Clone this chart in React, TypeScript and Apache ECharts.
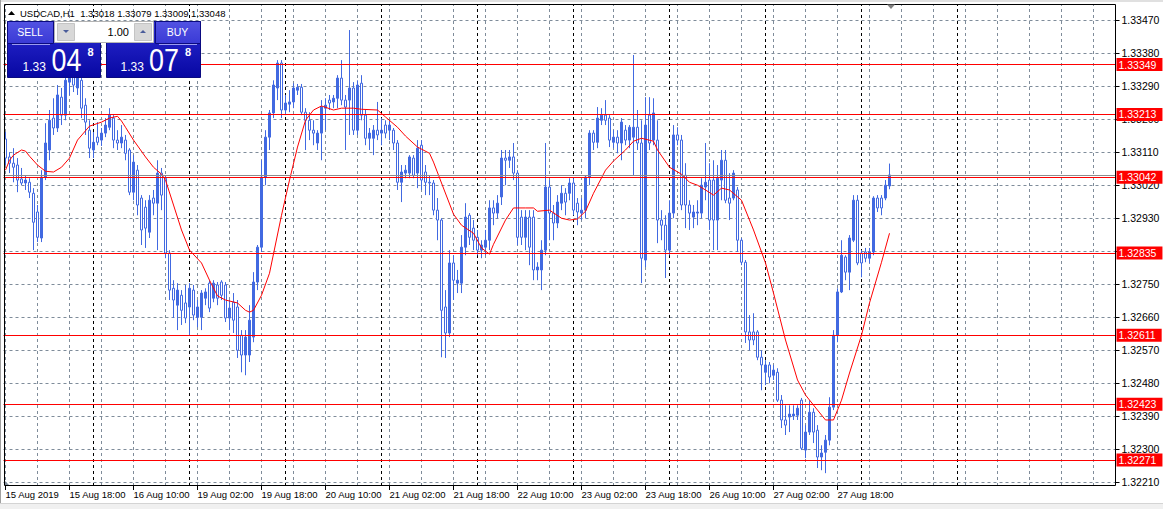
import React, { useEffect, useRef } from "react";
import * as echarts from "echarts";

// ---------- data ----------
const symbolTitle = "USDCAD,H1";
const headerOHLC = ["1.33018", "1.33079", "1.33009", "1.33048"];

const tradingDays = ["15 Aug", "16 Aug", "19 Aug", "20 Aug", "21 Aug", "22 Aug", "23 Aug", "26 Aug", "27 Aug", "28 Aug", "29 Aug", "30 Aug"];
const firstHour = 2;
const slotCount = 278;

const timeLabels = [
  "15 Aug 2019", "15 Aug 18:00", "16 Aug 10:00", "19 Aug 02:00", "19 Aug 18:00", "20 Aug 10:00", "21 Aug 02:00",
  "21 Aug 18:00", "22 Aug 10:00", "23 Aug 02:00", "23 Aug 18:00", "26 Aug 10:00", "27 Aug 02:00", "27 Aug 18:00",
];
const timeLabelStep = 16;

const priceTicks = [1.3221, 1.323, 1.3239, 1.3248, 1.3257, 1.3266, 1.3275, 1.3284, 1.3293, 1.3302, 1.3311, 1.332, 1.3329, 1.3338, 1.3347];
const priceMin = 1.322;
const priceMax = 1.33514;
const levelPrices = [1.33349, 1.33213, 1.33042, 1.32835, 1.32611, 1.32423, 1.32271];
const bidPrice = 1.33048;

const opens = [
  1.33146, 1.33097, 1.33080, 1.33075, 1.33037, 1.33026, 1.33028, 1.32998, 1.32947, 1.32876,
  1.33042, 1.33116, 1.33203, 1.33176, 1.33260, 1.33211, 1.33301, 1.33339, 1.33285, 1.33306,
  1.33238, 1.33170, 1.33116, 1.33151, 1.33143, 1.33162, 1.33178, 1.33203, 1.33143, 1.33135,
  1.33143, 1.33116, 1.33001, 1.33061, 1.32985, 1.32960, 1.32892, 1.32985, 1.32971, 1.33053,
  1.33039, 1.32835, 1.32739, 1.32693, 1.32720, 1.32699, 1.32688, 1.32734, 1.32660, 1.32660,
  1.32712, 1.32753, 1.32712, 1.32748, 1.32756, 1.32748, 1.32658, 1.32701, 1.32688, 1.32611,
  1.32557, 1.32557, 1.32606, 1.32756, 1.32851, 1.33042, 1.33151, 1.33217, 1.33285, 1.33353,
  1.33225, 1.33241, 1.33247, 1.33279, 1.33287, 1.33219, 1.33197, 1.33170, 1.33135, 1.33162,
  1.33230, 1.33252, 1.33247, 1.33257, 1.33312, 1.33252, 1.33252, 1.33285, 1.33170, 1.33298,
  1.33211, 1.33148, 1.33148, 1.33170, 1.33162, 1.33184, 1.33170, 1.33170, 1.33135, 1.33028,
  1.33053, 1.33053, 1.33094, 1.33053, 1.33129, 1.33056, 1.33028, 1.33026, 1.32952, 1.32925,
  1.32688, 1.32617, 1.32808, 1.32753, 1.32753, 1.32851, 1.32938, 1.32903, 1.32878, 1.32843,
  1.32851, 1.32870, 1.32958, 1.32944, 1.32988, 1.33094, 1.33088, 1.33097, 1.33053, 1.32933,
  1.32878, 1.32933, 1.32933, 1.32789, 1.32789, 1.32843, 1.33015, 1.32944, 1.32917, 1.32971,
  1.32998, 1.32998, 1.33026, 1.32971, 1.32944, 1.32952, 1.33042, 1.33162, 1.33137, 1.33197,
  1.33211, 1.33203, 1.33137, 1.33151, 1.33135, 1.33170, 1.33143, 1.33151, 1.33178, 1.33135,
  1.32816, 1.33211, 1.33143, 1.33143, 1.32925, 1.32911, 1.32843, 1.32944, 1.33157, 1.33143,
  1.33047, 1.32966, 1.32933, 1.32944, 1.32944, 1.33015, 1.33034, 1.33034, 1.32925, 1.33034,
  1.33088, 1.32985, 1.32985, 1.33007, 1.32870, 1.32810, 1.32620, 1.32620, 1.32620, 1.32551,
  1.32510, 1.32530, 1.32502, 1.32510, 1.32434, 1.32380, 1.32388, 1.32391, 1.32393, 1.32434,
  1.32298, 1.32347, 1.32401, 1.32352, 1.32279, 1.32292, 1.32325, 1.32415, 1.32611, 1.32729,
  1.32824, 1.32783, 1.32870, 1.32979, 1.32835, 1.32838, 1.32821, 1.32838, 1.32985, 1.32985,
  1.32985, 1.33018,
];
const highs = [
  1.33165, 1.33110, 1.33121, 1.33094, 1.33067, 1.33047, 1.33039, 1.33012, 1.32966, 1.33061,
  1.33189, 1.33225, 1.33257, 1.33293, 1.33285, 1.33328, 1.33355, 1.33350, 1.33334, 1.33317,
  1.33257, 1.33197, 1.33165, 1.33192, 1.33176, 1.33203, 1.33230, 1.33211, 1.33170, 1.33184,
  1.33157, 1.33121, 1.33102, 1.33075, 1.32993, 1.32979, 1.32993, 1.33007, 1.33088, 1.33067,
  1.33047, 1.32843, 1.32761, 1.32753, 1.32734, 1.32748, 1.32753, 1.32748, 1.32707, 1.32734,
  1.32739, 1.32761, 1.32761, 1.32756, 1.32761, 1.32756, 1.32707, 1.32726, 1.32707, 1.32625,
  1.32625, 1.32693, 1.32783, 1.32857, 1.33088, 1.33170, 1.33225, 1.33306, 1.33361, 1.33361,
  1.33266, 1.33279, 1.33298, 1.33296, 1.33296, 1.33230, 1.33219, 1.33197, 1.33170, 1.33252,
  1.33257, 1.33266, 1.33266, 1.33320, 1.33361, 1.33266, 1.33443, 1.33301, 1.33306, 1.33320,
  1.33225, 1.33176, 1.33184, 1.33247, 1.33203, 1.33197, 1.33197, 1.33176, 1.33143, 1.33075,
  1.33075, 1.33102, 1.33102, 1.33143, 1.33143, 1.33075, 1.33047, 1.33034, 1.32985, 1.32930,
  1.32734, 1.32843, 1.32829, 1.32789, 1.32884, 1.32971, 1.32944, 1.32925, 1.32898, 1.32870,
  1.32898, 1.32979, 1.32979, 1.32993, 1.33116, 1.33116, 1.33116, 1.33135, 1.33061, 1.32952,
  1.32952, 1.32952, 1.32952, 1.32810, 1.32870, 1.33135, 1.33034, 1.32966, 1.32993, 1.33020,
  1.33012, 1.33039, 1.33039, 1.32985, 1.32985, 1.33047, 1.33170, 1.33170, 1.33233, 1.33230,
  1.33252, 1.33211, 1.33170, 1.33170, 1.33203, 1.33184, 1.33184, 1.33375, 1.33225, 1.33197,
  1.33260, 1.33260, 1.33257, 1.33197, 1.32952, 1.32938, 1.32979, 1.33184, 1.33178, 1.33157,
  1.33080, 1.32979, 1.32966, 1.32979, 1.33039, 1.33135, 1.33080, 1.33088, 1.33075, 1.33116,
  1.33116, 1.33053, 1.33061, 1.33015, 1.32876, 1.32816, 1.32666, 1.32671, 1.32625, 1.32570,
  1.32543, 1.32538, 1.32530, 1.32521, 1.32448, 1.32420, 1.32420, 1.32420, 1.32420, 1.32440,
  1.32366, 1.32434, 1.32412, 1.32366, 1.32311, 1.32339, 1.32442, 1.32625, 1.32739, 1.32870,
  1.32829, 1.32884, 1.32993, 1.32993, 1.32843, 1.32849, 1.32849, 1.32990, 1.32993, 1.32993,
  1.33034, 1.33079,
];
const lows = [
  1.33075, 1.33053, 1.33028, 1.33001, 1.33020, 1.33007, 1.32985, 1.32843, 1.32865, 1.32865,
  1.33034, 1.33088, 1.33157, 1.33165, 1.33184, 1.33197, 1.33266, 1.33274, 1.33266, 1.33203,
  1.33157, 1.33094, 1.33094, 1.33129, 1.33127, 1.33151, 1.33170, 1.33121, 1.33116, 1.33121,
  1.33088, 1.32993, 1.32979, 1.32938, 1.32857, 1.32849, 1.32876, 1.32938, 1.32843, 1.32952,
  1.32821, 1.32707, 1.32658, 1.32625, 1.32639, 1.32644, 1.32611, 1.32652, 1.32633, 1.32625,
  1.32693, 1.32674, 1.32701, 1.32693, 1.32707, 1.32647, 1.32625, 1.32617, 1.32549, 1.32510,
  1.32502, 1.32538, 1.32592, 1.32734, 1.32838, 1.33020, 1.33116, 1.33203, 1.33252, 1.33203,
  1.33211, 1.33219, 1.33230, 1.33266, 1.33211, 1.33116, 1.33143, 1.33129, 1.33116, 1.33088,
  1.33170, 1.33225, 1.33230, 1.33230, 1.33238, 1.33116, 1.33157, 1.33157, 1.33157, 1.33197,
  1.33129, 1.33116, 1.33102, 1.33143, 1.33129, 1.33148, 1.33143, 1.33116, 1.33007, 1.32974,
  1.33039, 1.33039, 1.33039, 1.33012, 1.33007, 1.32993, 1.32993, 1.32938, 1.32870, 1.32551,
  1.32549, 1.32606, 1.32707, 1.32726, 1.32726, 1.32829, 1.32857, 1.32843, 1.32829, 1.32821,
  1.32829, 1.32843, 1.32911, 1.32930, 1.32966, 1.33020, 1.33067, 1.33034, 1.32857, 1.32857,
  1.32843, 1.32802, 1.32761, 1.32761, 1.32734, 1.32829, 1.32870, 1.32870, 1.32903, 1.32952,
  1.32938, 1.32979, 1.32938, 1.32911, 1.32925, 1.32930, 1.33020, 1.33116, 1.33121, 1.33184,
  1.33184, 1.33124, 1.33121, 1.33107, 1.33088, 1.33129, 1.33121, 1.33047, 1.33116, 1.32753,
  1.32797, 1.33116, 1.33129, 1.32862, 1.32870, 1.32767, 1.32829, 1.32930, 1.33129, 1.32952,
  1.32903, 1.32898, 1.32903, 1.32911, 1.32930, 1.32979, 1.32898, 1.32843, 1.32843, 1.32979,
  1.32971, 1.32925, 1.32979, 1.32838, 1.32802, 1.32590, 1.32570, 1.32584, 1.32543, 1.32461,
  1.32475, 1.32480, 1.32489, 1.32429, 1.32358, 1.32339, 1.32347, 1.32380, 1.32380, 1.32298,
  1.32276, 1.32339, 1.32317, 1.32249, 1.32243, 1.32235, 1.32311, 1.32407, 1.32592, 1.32726,
  1.32761, 1.32734, 1.32865, 1.32802, 1.32769, 1.32810, 1.32808, 1.32829, 1.32947, 1.32938,
  1.32979, 1.33009,
];
const closes = [
  1.33094, 1.33080, 1.33069, 1.33034, 1.33026, 1.33034, 1.33001, 1.32919, 1.32878, 1.33042,
  1.33135, 1.33197, 1.33176, 1.33266, 1.33211, 1.33306, 1.33342, 1.33293, 1.33312, 1.33230,
  1.33192, 1.33121, 1.33137, 1.33137, 1.33162, 1.33184, 1.33211, 1.33143, 1.33135, 1.33151,
  1.33107, 1.33001, 1.33083, 1.32966, 1.32898, 1.32903, 1.32979, 1.32971, 1.33053, 1.32993,
  1.32835, 1.32734, 1.32707, 1.32734, 1.32679, 1.32658, 1.32739, 1.32666, 1.32688, 1.32726,
  1.32729, 1.32685, 1.32753, 1.32712, 1.32720, 1.32658, 1.32685, 1.32652, 1.32570, 1.32557,
  1.32606, 1.32652, 1.32756, 1.32851, 1.33042, 1.33151, 1.33217, 1.33293, 1.33353, 1.33225,
  1.33244, 1.33247, 1.33285, 1.33287, 1.33219, 1.33197, 1.33170, 1.33162, 1.33162, 1.33233,
  1.33238, 1.33244, 1.33257, 1.33312, 1.33252, 1.33233, 1.33285, 1.33170, 1.33293, 1.33211,
  1.33148, 1.33162, 1.33170, 1.33157, 1.33170, 1.33162, 1.33184, 1.33135, 1.33028, 1.33056,
  1.33061, 1.33097, 1.33047, 1.33121, 1.33034, 1.33028, 1.33026, 1.32952, 1.32925, 1.32679,
  1.32617, 1.32808, 1.32761, 1.32761, 1.32851, 1.32933, 1.32878, 1.32870, 1.32843, 1.32857,
  1.32870, 1.32958, 1.32944, 1.32971, 1.33094, 1.33088, 1.33097, 1.33053, 1.32878, 1.32878,
  1.32933, 1.32851, 1.32789, 1.32797, 1.32843, 1.33015, 1.32944, 1.32917, 1.32974, 1.32998,
  1.32974, 1.33026, 1.32952, 1.32947, 1.32952, 1.33042, 1.33162, 1.33137, 1.33203, 1.33211,
  1.33197, 1.33143, 1.33151, 1.33135, 1.33192, 1.33143, 1.33178, 1.33178, 1.33135, 1.32821,
  1.33184, 1.33135, 1.33217, 1.32925, 1.32911, 1.32843, 1.32944, 1.33157, 1.33143, 1.32966,
  1.32966, 1.32944, 1.32947, 1.32947, 1.33020, 1.33028, 1.32925, 1.32925, 1.33039, 1.33088,
  1.32979, 1.32971, 1.33053, 1.32870, 1.32810, 1.32620, 1.32598, 1.32598, 1.32551, 1.32530,
  1.32530, 1.32497, 1.32516, 1.32434, 1.32380, 1.32366, 1.32396, 1.32396, 1.32412, 1.32303,
  1.32347, 1.32401, 1.32347, 1.32279, 1.32290, 1.32325, 1.32415, 1.32611, 1.32729, 1.32829,
  1.32783, 1.32876, 1.32979, 1.32808, 1.32808, 1.32821, 1.32838, 1.32985, 1.32958, 1.32958,
  1.33020, 1.33048,
];

// moving average (read at a subset of bars)
const maIndex = [
  0, 1, 2, 4, 5, 6, 8, 10, 12, 14, 16, 18, 21, 24, 26, 28, 29, 30, 32, 35,
  37, 39, 40, 42, 44, 46, 49, 51, 53, 55, 58, 60, 61, 62, 64, 66, 69, 71, 73, 75,
  77, 79, 82, 84, 87, 89, 93, 95, 98, 100, 103, 106, 107, 109, 112, 114, 117, 119, 121, 122,
  125, 127, 130, 132, 133, 136, 139, 141, 143, 145, 147, 150, 152, 155, 157, 159, 162, 163, 166, 169,
  171, 173, 175, 177, 179, 181, 184, 187, 190, 192, 195, 198, 200, 203, 205, 207, 209, 211, 214, 216,
  219, 221,
];
const maValues = [
  1.33061, 1.33088, 1.33102, 1.33116, 1.33113, 1.33099, 1.33075, 1.33058, 1.33056, 1.33069,
  1.33094, 1.33143, 1.33181, 1.33192, 1.33203, 1.33208, 1.33195, 1.33178, 1.33143, 1.33097,
  1.33069, 1.33050, 1.33034, 1.32966, 1.32898, 1.32843, 1.32808, 1.32761, 1.32718, 1.32707,
  1.32699, 1.32679, 1.32674, 1.32679, 1.32720, 1.32780, 1.32938, 1.33034, 1.33124, 1.33197,
  1.33225, 1.33236, 1.33225, 1.33230, 1.33230, 1.33227, 1.33225, 1.33206, 1.33178, 1.33154,
  1.33124, 1.33107, 1.33083, 1.33026, 1.32941, 1.32911, 1.32889, 1.32849, 1.32832, 1.32859,
  1.32925, 1.32958, 1.32958, 1.32958, 1.32949, 1.32952, 1.32930, 1.32925, 1.32928, 1.32949,
  1.32998, 1.33061, 1.33086, 1.33116, 1.33140, 1.33148, 1.33140, 1.33116, 1.33069, 1.33050,
  1.33028, 1.33020, 1.33007, 1.32993, 1.33012, 1.33007, 1.32979, 1.32898, 1.32808, 1.32726,
  1.32598, 1.32489, 1.32448, 1.32407, 1.32380, 1.32380, 1.32434, 1.32508, 1.32611, 1.32699,
  1.32810, 1.32889,
];

const gridStep = 8;
const daySeparatorFirst = 22;
const daySeparatorStep = 24;
const daySeparatorLast = 238;

const panelSellPrefix = "1.33";
const panelSellBig = "04";
const panelSellPip = "8";
const panelBuyPrefix = "1.33";
const panelBuyBig = "07";
const panelBuyPip = "8";
const panelLots = "1.00";

// ---------- styling ----------
const FONT = "'Liberation Sans', Arial, sans-serif";
const BLUE = "#4169e1";
const GRID_GRAY = "#7f8c9a";

function buildCategories(): string[] {
  const out: string[] = [];
  tradingDays.forEach((d, k) => {
    for (let h = k === 0 ? firstHour : 0; h < 24; h++) {
      out.push(d + " " + String(h).padStart(2, "0") + ":00");
    }
  });
  return out.slice(0, slotCount);
}

function buildOption() {
  const categories = buildCategories();
  const candleData = opens.map((o, i) => [o, closes[i], lows[i], highs[i]]);
  const maData = maIndex.map((x, k) => [x, maValues[k]]);

  const gridMarks: any[] = [];
  priceTicks.forEach((p) => gridMarks.push({ yAxis: p }));
  for (let i = 0; i < slotCount; i += gridStep) gridMarks.push({ xAxis: i });
  for (let i = daySeparatorFirst; i <= daySeparatorLast; i += daySeparatorStep) {
    gridMarks.push({ xAxis: i, lineStyle: { color: "#000000", type: [3, 3], width: 1, opacity: 1 } });
  }

  const levelMarks: any[] = [
    { yAxis: bidPrice, lineStyle: { color: "#8c8c8c", type: "solid", width: 1 }, label: { show: false } },
  ];
  levelPrices.forEach((p) =>
    levelMarks.push({
      yAxis: p,
      lineStyle: { color: "#ff0000", type: "solid", width: 1 },
      label: {
        show: true,
        position: "end",
        formatter: p.toFixed(5),
        color: "#ffffff",
        backgroundColor: "#ff0000",
        padding: [1, 6, 0, 2],
        distance: 1,
        fontSize: 10.5,
        fontFamily: FONT,
        lineHeight: 12,
      },
    })
  );

  const labelShown = (index: number) => index % timeLabelStep === 0 && index / timeLabelStep < timeLabels.length;

  const grad = (a: string, b: string) =>
    new echarts.graphic.LinearGradient(0, 0, 0, 1, [
      { offset: 0, color: a },
      { offset: 1, color: b },
    ]);

  const txt = (text: string, x: number, y: number, size: number, fill: string, align = "left", extra: any = {}) => ({
    type: "text",
    x,
    y,
    z: 120,
    silent: true,
    ...extra,
    style: { text, fill, fontSize: size, fontFamily: FONT, align, verticalAlign: "middle", ...(extra.style || {}) },
  });

  const graphic: any[] = [
    { type: "rect", z: 100, silent: true, shape: { x: 0, y: 0, width: 1163, height: 2 }, style: { fill: "#e0e0e0" } },
    { type: "rect", z: 100, silent: true, shape: { x: 0, y: 503, width: 1163, height: 6 }, style: { fill: "#f0f0f0" } },
    { type: "line", z: 100, silent: true, shape: { x1: 0, y1: 503.5, x2: 1163, y2: 503.5 }, style: { stroke: "#d4d4d4", lineWidth: 1 } },
    { type: "rect", z: 100, silent: true, shape: { x: 0, y: 0, width: 1, height: 503 }, style: { fill: "#a0a0a0" } },
    { type: "rect", z: 90, silent: true, shape: { x: 4.5, y: 4.5, width: 1111, height: 481 }, style: { fill: "none", stroke: "#000000", lineWidth: 1 } },
    { type: "polygon", z: 95, silent: true, shape: { points: [[887, 4.5], [895, 4.5], [891, 9]] }, style: { fill: "#808080" } },
    { type: "polygon", z: 95, silent: true, shape: { points: [[5, 481], [5, 485], [9, 485]] }, style: { fill: GRID_GRAY } },
    { type: "polygon", z: 100, silent: true, shape: { points: [[8, 15], [15, 15], [11.5, 11]] }, style: { fill: "#000000" } },
    txt(symbolTitle + "\u00a0\u00a0" + headerOHLC.join(" "), 20, 13, 9.5, "#000000"),
    { type: "rect", z: 110, silent: true, shape: { x: 7.5, y: 21.5, width: 93, height: 56 }, style: { fill: grad("#2c2cd4", "#0707a2"), stroke: "#0a0a80", lineWidth: 1 } },
    { type: "rect", z: 110, silent: true, shape: { x: 106.5, y: 21.5, width: 94, height: 56 }, style: { fill: grad("#2c2cd4", "#0707a2"), stroke: "#0a0a80", lineWidth: 1 } },
    { type: "rect", z: 111, silent: true, shape: { x: 7.5, y: 21.5, width: 46, height: 22 }, style: { fill: grad("#5252e2", "#3a3ad6"), stroke: "#0a0a80", lineWidth: 1 } },
    { type: "rect", z: 111, silent: true, shape: { x: 155.5, y: 21.5, width: 45, height: 22 }, style: { fill: grad("#5252e2", "#3a3ad6"), stroke: "#0a0a80", lineWidth: 1 } },
    { type: "line", z: 112, silent: true, shape: { x1: 12, y1: 44.5, x2: 50, y2: 44.5 }, style: { stroke: "#9c9cf0", lineWidth: 1 } },
    { type: "line", z: 112, silent: true, shape: { x1: 159, y1: 44.5, x2: 197, y2: 44.5 }, style: { stroke: "#9c9cf0", lineWidth: 1 } },
    { type: "rect", z: 112, silent: true, shape: { x: 54.5, y: 21.5, width: 99, height: 21 }, style: { fill: "#ffffff", stroke: "#b4b4b4", lineWidth: 1 } },
    { type: "rect", z: 113, silent: true, shape: { x: 57.5, y: 23.5, width: 17, height: 17 }, style: { fill: "#d8d8d8", stroke: "#c4c4c4", lineWidth: 1 } },
    { type: "rect", z: 113, silent: true, shape: { x: 134.5, y: 23.5, width: 17, height: 17 }, style: { fill: "#d8d8d8", stroke: "#c4c4c4", lineWidth: 1 } },
    { type: "polygon", z: 114, silent: true, shape: { points: [[63, 30], [69, 30], [66, 33]] }, style: { fill: "#4a5c9a" } },
    { type: "polygon", z: 114, silent: true, shape: { points: [[140, 33], [146, 33], [143, 30]] }, style: { fill: "#4a5c9a" } },
    txt(panelLots, 129, 32, 11, "#000000", "right"),
    txt("SELL", 30, 31.5, 10.5, "#ffffff", "center"),
    txt("BUY", 177.5, 31.5, 10.5, "#ffffff", "center"),
    txt(panelSellPrefix, 22.5, 67, 12, "#ffffff"),
    txt(panelSellBig, 51.5, 59.5, 32, "#ffffff", "left", { scaleX: 0.84 }),
    txt(panelSellPip, 87.5, 52, 11, "#ffffff", "left", { style: { fontWeight: "bold" } }),
    txt(panelBuyPrefix, 120.5, 67, 12, "#ffffff"),
    txt(panelBuyBig, 149, 59.5, 32, "#ffffff", "left", { scaleX: 0.84 }),
    txt(panelBuyPip, 185, 52, 11, "#ffffff", "left", { style: { fontWeight: "bold" } }),
  ];

  return {
    animation: false,
    backgroundColor: "#ffffff",
    grid: { left: 3.5, top: 4, width: 1112, height: 482, containLabel: false, show: false },
    xAxis: {
      type: "category",
      data: categories,
      boundaryGap: true,
      axisLine: { show: false },
      axisTick: { show: true, alignWithLabel: true, interval: (i: number) => labelShown(i), length: 4, lineStyle: { color: "#000000" } },
      axisLabel: {
        interval: (i: number) => labelShown(i),
        formatter: (_v: string, i: number) => timeLabels[i / timeLabelStep] || "",
        align: "left",
        margin: 3,
        fontSize: 9.5,
        color: "#000000",
        fontFamily: FONT,
      },
      splitLine: { show: false },
    },
    yAxis: {
      type: "value",
      position: "right",
      min: priceMin,
      max: priceMax,
      axisLine: { show: false },
      splitLine: { show: false },
      axisTick: { show: true, customValues: priceTicks, length: 4, lineStyle: { color: "#000000" } },
      axisLabel: {
        customValues: priceTicks,
        formatter: (v: number) => v.toFixed(5),
        margin: 6,
        fontSize: 10.5,
        color: "#000000",
        fontFamily: FONT,
      },
    },
    series: [
      {
        name: "USDCAD",
        type: "candlestick",
        data: candleData,
        barWidth: 2,
        z: 3,
        silent: true,
        itemStyle: { color: BLUE, color0: "#ffffff", borderColor: BLUE, borderColor0: BLUE, borderWidth: 1 },
        markLine: {
          z: 1,
          precision: 6,
          silent: true,
          symbol: ["none", "none"],
          label: { show: false },
          emphasis: { disabled: true },
          lineStyle: { color: GRID_GRAY, type: [3, 3], width: 1, opacity: 1 },
          data: gridMarks,
        },
      },
      {
        name: "MA",
        type: "line",
        data: maData,
        showSymbol: false,
        silent: true,
        z: 4,
        lineStyle: { color: "#ff0000", width: 1 },
        markLine: { z: 6, precision: 6, silent: true, symbol: ["none", "none"], emphasis: { disabled: true }, data: levelMarks },
      },
    ],
    graphic,
  };
}

export default function App() {
  const ref = useRef<HTMLDivElement>(null);
  useEffect(() => {
    document.body.style.margin = "0";
    const chart = echarts.init(ref.current!, undefined, { renderer: "svg", width: 1163, height: 509 });
    chart.setOption(buildOption() as any);
    return () => chart.dispose();
  }, []);
  return <div ref={ref} style={{ width: 1163, height: 509 }} />;
}
